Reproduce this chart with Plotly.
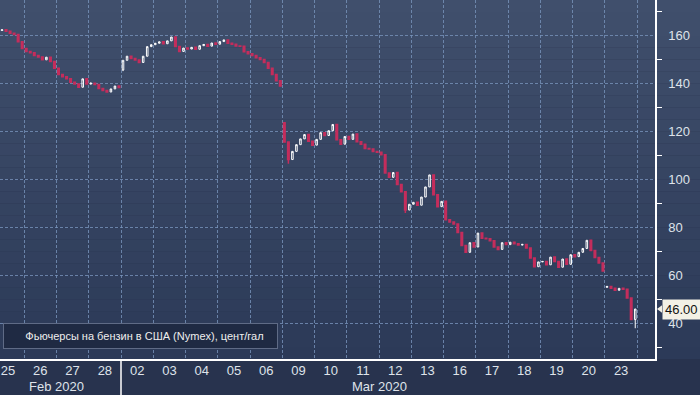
import plotly.graph_objects as go

# ---------------- data ----------------
day_labels = ["25", "26", "27", "28", "02", "03", "04", "05", "06", "09",
              "10", "11", "12", "13", "16", "17", "18", "19", "20", "23"]
month_labels = ["Feb 2020", "Mar 2020"]
month_start = [0, 4]          # index of first day of each month block
month_end = [4, 20]

# per trading day: opening price followed by 8 intraday closes (cents/gal)
day_prices = [
    [162.0, 162.4, 161.9, 162.2, 161.6, 160.8, 160.2, 157.2, 154.4],  # 25
    [154.4, 153.2, 152.6, 151.5, 150.9, 149.7, 150.8, 149.0, 146.2],  # 26
    [146.2, 143.6, 142.7, 141.8, 140.4, 139.6, 138.3, 141.8, 139.6],  # 27
    [139.6, 140.0, 139.4, 137.8, 136.9, 136.3, 137.6, 138.8, 138.2],  # 28
    [145.5, 149.5, 151.2, 150.3, 149.6, 148.6, 151.2, 155.2, 156.0],  # 02
    [156.0, 156.6, 157.2, 156.4, 157.6, 159.2, 155.2, 153.2, 154.6],  # 03
    [154.6, 154.2, 154.9, 154.1, 155.6, 156.1, 155.4, 156.7, 156.2],  # 04
    [156.2, 157.3, 158.0, 156.6, 156.2, 155.5, 155.4, 153.1, 152.2],  # 05
    [152.2, 151.5, 150.6, 149.8, 148.6, 146.2, 143.6, 141.0, 138.8],  # 06
    [123.5, 115.5, 108.2, 111.6, 114.4, 116.8, 118.6, 115.8, 114.2],  # 09
    [114.2, 116.6, 119.4, 118.2, 120.2, 122.8, 116.4, 114.6, 117.8],  # 10
    [117.8, 116.6, 118.8, 115.6, 114.6, 112.8, 112.6, 111.6, 111.2],  # 11
    [111.2, 110.2, 102.6, 100.8, 102.8, 97.8, 94.8, 87.2, 89.6],      # 12
    [89.6, 90.4, 89.2, 92.6, 96.8, 101.8, 93.6, 88.6, 90.8],          # 13
    [90.8, 83.2, 82.2, 81.4, 77.8, 72.4, 69.6, 73.6, 71.8],           # 16
    [71.8, 77.6, 75.4, 75.2, 74.4, 71.8, 70.8, 73.6, 72.8],           # 17
    [72.8, 73.8, 73.2, 72.6, 72.9, 71.4, 67.2, 63.6, 65.6],           # 18
    [65.6, 65.8, 64.4, 67.6, 65.8, 63.4, 66.8, 64.6, 68.6],           # 19
    [68.6, 67.8, 69.6, 71.2, 74.6, 70.4, 67.4, 65.2, 61.8],           # 20
    [55.0, 55.4, 54.6, 53.8, 54.6, 54.2, 50.6, 41.6, 46.0],           # 23
]
# a few visible long lower wicks: (day index, candle index) -> low
wick_lows = {(9, 1): 106.5, (19, 7): 38.0, (4, 0): 145.0, (12, 6): 86.0}
last_price = 46.00
series_name = "Фьючерсы на бензин в США (Nymex), цент/гал"

# ---------------- build candles ----------------
n_per_day = len(day_prices[0]) - 1
xs, op, hi, lo, cl = [], [], [], [], []
for d, p in enumerate(day_prices):
    for k in range(n_per_day):
        o, c = p[k], p[k + 1]
        xs.append(d + (k + 0.5) / n_per_day)
        op.append(o)
        cl.append(c)
        hi.append(max(o, c))
        lo.append(wick_lows.get((d, k), min(o, c)))

RED = "#c42d5c"
FONT = "Liberation Sans"
TXT = "#dfe3ea"
fig = go.Figure()
fig.add_trace(go.Candlestick(
    x=xs, open=op, high=hi, low=lo, close=cl,
    increasing=dict(line=dict(color="white", width=1), fillcolor="rgba(0,0,0,0)"),
    decreasing=dict(line=dict(color=RED, width=1.5), fillcolor=RED),
    whiskerwidth=0, showlegend=False, hoverinfo="skip",
))

X0, X1 = 0.25, 20.55
Y0, Y1 = 25.2, 174.6
major = [40, 60, 80, 100, 120, 140, 160]

# tick triangles just right of the y axis
fig.add_trace(go.Scatter(
    x=[X1 + 0.13] * len(major), y=major, mode="markers",
    marker=dict(symbol="triangle-right", size=7, color="white"),
    cliponaxis=False, showlegend=False, hoverinfo="skip",
))

# ---------------- background gradient ----------------
W, H = 655.0, 359.0  # plot area size in px
top = (64, 79, 108)
bot = (44, 58, 88)
shapes = []
nb = 30
for i in range(nb):
    t = i / (nb - 1)
    col = tuple(round(top[j] + (bot[j] - top[j]) * t) for j in range(3))
    shapes.append(dict(type="rect", xref="paper", yref="paper",
                       x0=0, x1=700 / W, y0=1 - (i + 1) / nb, y1=1 - i / nb,
                       fillcolor="rgb(%d,%d,%d)" % col, line=dict(width=0),
                       layer="below"))
# month separator
shapes.append(dict(type="line", xref="x", yref="paper", x0=4, x1=4,
                   y0=0, y1=-36 / H, line=dict(color="white", width=1.5)))
# last price pointer
px = 1 / W
shapes.append(dict(type="path", xref="paper", yref="y",
                   path="M %f,%f L %f,%f L %f,%f Z" % (1 + 2 * px, last_price,
                                                       1 + 7 * px, last_price + 1.6,
                                                       1 + 7 * px, last_price - 1.6),
                   fillcolor="#f3f1e6", line=dict(width=0)))
# legend square
shapes.append(dict(type="rect", xref="paper", yref="paper",
                   x0=11 / W, x1=19 / W, y0=(H - 339) / H, y1=(H - 331) / H,
                   fillcolor="white", line=dict(width=0)))

annotations = []
for lab, s, e in zip(month_labels, month_start, month_end):
    annotations.append(dict(x=(s + e) / 2, y=-(386 - H) / H, xref="x", yref="paper",
                            text=lab, showarrow=False, yanchor="middle",
                            font=dict(size=13, color=TXT, family=FONT)))
annotations.append(dict(x=1 + 26 * px, y=last_price, xref="paper", yref="y",
                        text="%.2f" % last_price, showarrow=False, bgcolor="#f3f1e6",
                        font=dict(size=13, color="#111111", family=FONT), borderpad=2,
                        xanchor="center"))
# legend box
annotations.append(dict(x=3 / W, y=(H - 336) / H, xref="paper", yref="paper",
                        xanchor="left", yanchor="middle", showarrow=False,
                        text="&nbsp;" * 6 + series_name, align="left",
                        width=267, height=18, borderpad=3, borderwidth=1,
                        bgcolor="#1f2a43", bordercolor="#5f6b86",
                        font=dict(size=11, color="#eeeeee", family=FONT)))

grid_col = "rgba(120,148,188,0.8)"
fig.update_layout(
    width=700, height=395,
    margin=dict(l=0, r=45, t=0, b=36),
    paper_bgcolor="#28334e", plot_bgcolor="rgba(0,0,0,0)",
    font=dict(family=FONT, color=TXT),
    shapes=shapes, annotations=annotations,
    showlegend=False, boxgap=0.45, boxgroupgap=0.3,
    xaxis=dict(range=[X0, X1], tickvals=[i + 0.5 for i in range(len(day_labels))],
               ticktext=day_labels, showgrid=False, ticks="", zeroline=False,
               showline=True, linecolor="white", linewidth=1.5,
               tickfont=dict(size=13, color=TXT, family=FONT),
               ticklabelstandoff=-1,
               rangeslider=dict(visible=False),
               minor=dict(tick0=0, dtick=1, showgrid=True, gridcolor=grid_col,
                          griddash="3px,2px", gridwidth=1, ticks="")),
    yaxis=dict(side="right", range=[Y0, Y1], tick0=0, dtick=20,
               showgrid=True, gridcolor=grid_col, griddash="3px,2px", gridwidth=1,
               zeroline=False, showline=True, linecolor="white", linewidth=1.5,
               ticks="", ticklabelstandoff=9,
               tickfont=dict(size=13, color=TXT, family=FONT),
               minor=dict(dtick=10, ticks="outside", ticklen=5, tickcolor="white",
                          tickwidth=1, showgrid=False)),
)

fig.write_html("out.html", config={"displayModeBar": False},
               post_script="document.body.style.margin='0';")
